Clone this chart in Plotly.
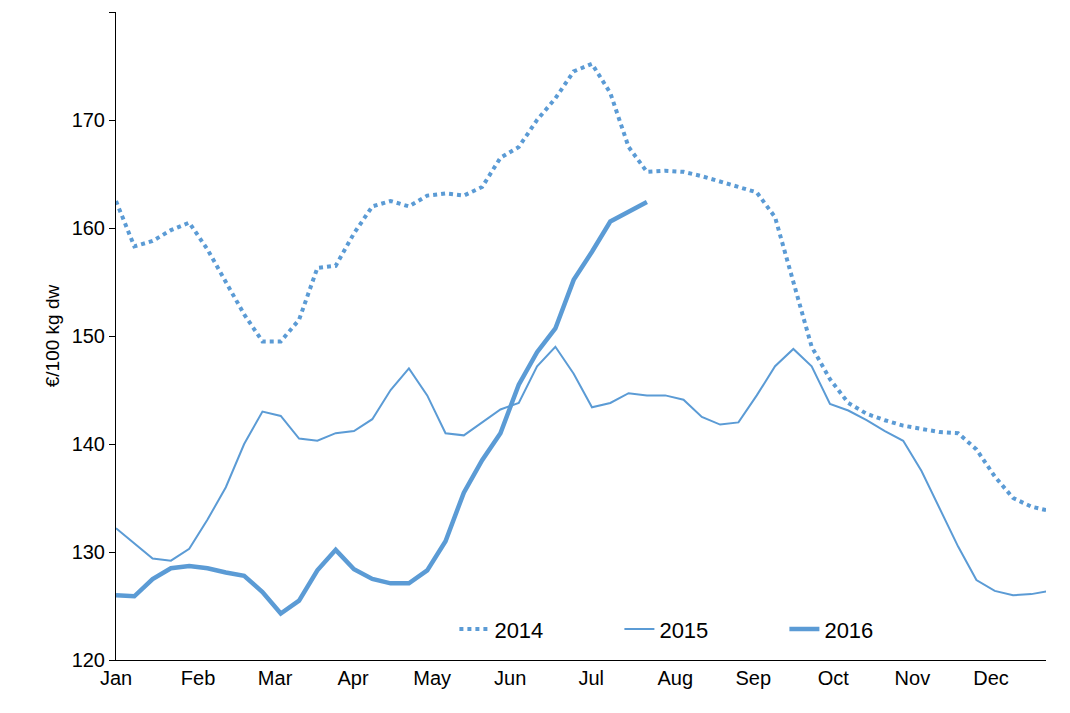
import plotly.graph_objects as go

# weekly prices, €/100 kg dw (week index 0 = start of Jan)
y2014 = [162.5, 158.3, 158.8, 159.8, 160.5, 158, 155, 152, 149.5, 149.5, 151.5, 156.3, 156.5,
         159.5, 162, 162.5, 162, 163, 163.2, 163, 163.8, 166.5, 167.5, 170, 172, 174.5, 175.2,
         172.5, 167.5, 165.2, 165.3, 165.2, 164.8, 164.3, 163.8, 163.3, 161, 155, 149, 146,
         143.8, 142.8, 142.2, 141.7, 141.4, 141.1, 141, 139.5, 137, 135, 134.2, 133.8]
y2015 = [132.2, 130.8, 129.4, 129.2, 130.3, 133, 136, 140, 143, 142.6, 140.5, 140.3, 141,
         141.2, 142.3, 145, 147, 144.5, 141, 140.8, 142, 143.2, 143.8, 147.2, 149, 146.5, 143.4,
         143.8, 144.7, 144.5, 144.5, 144.1, 142.5, 141.8, 142, 144.5, 147.2, 148.8, 147.2, 143.7,
         143.1, 142.2, 141.2, 140.3, 137.5, 134, 130.5, 127.4, 126.4, 126, 126.1, 126.4]
y2016 = [126, 125.9, 127.5, 128.5, 128.7, 128.5, 128.1, 127.8, 126.3, 124.3, 125.5, 128.3,
         130.2, 128.4, 127.5, 127.1, 127.1, 128.3, 131, 135.5, 138.5, 141, 145.5, 148.5, 150.7,
         155.2, 157.8, 160.6, 161.5, 162.4]
month_labels = ["Jan", "Feb", "Mar", "Apr", "May", "Jun", "Jul", "Aug", "Sep", "Oct", "Nov", "Dec"]
month_pos = [0, 4.48, 8.69, 12.95, 17.27, 21.53, 25.96, 30.55, 34.81, 39.18, 43.5, 47.8]

col = "#5b9bd5"
fig = go.Figure()
fig.add_trace(go.Scatter(x=list(range(len(y2014))), y=y2014, name="2014", mode="lines",
                         line=dict(color=col, width=4, dash="dot")))
fig.add_trace(go.Scatter(x=list(range(len(y2015))), y=y2015, name="2015", mode="lines",
                         line=dict(color=col, width=2)))
fig.add_trace(go.Scatter(x=list(range(len(y2016))), y=y2016, name="2016", mode="lines",
                         line=dict(color=col, width=4.5)))

fig.update_layout(
    width=1070, height=713, plot_bgcolor="white", paper_bgcolor="white",
    margin=dict(l=108, r=32, t=4, b=61),
    font=dict(family="Liberation Sans, Arial", size=20, color="black"),
    legend=dict(orientation="h", x=0.63, y=0.015, xanchor="center", yanchor="bottom",
                bgcolor="rgba(0,0,0,0)", font=dict(size=22), entrywidth=120),
    xaxis=dict(range=[0, 50.8], tickvals=month_pos, ticktext=month_labels, showgrid=False,
               showline=True, linecolor="black", ticks="", zeroline=False, automargin=False),
    yaxis=dict(range=[120, 180], dtick=10, showgrid=False, showline=True, linecolor="black",
               ticks="outside", ticklen=6, tickcolor="black", zeroline=False, automargin=False,
               title=dict(text="€/100 kg dw", font=dict(size=19), standoff=6)),
)
fig.write_html("out.html")
